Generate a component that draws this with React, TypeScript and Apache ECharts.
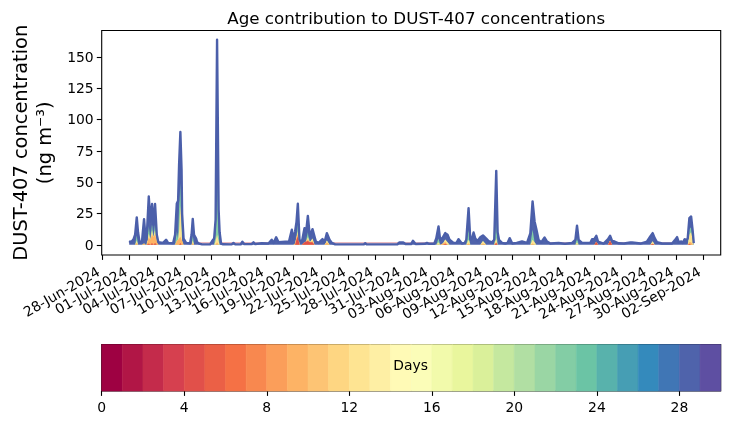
import { useEffect, useRef } from 'react';
import * as echarts from 'echarts';

// ---------- axis / label data ----------
const START_UTC = Date.UTC(2024, 5, 28); // x = days since 28-Jun-2024
const MONTHS = ['Jan', 'Feb', 'Mar', 'Apr', 'May', 'Jun', 'Jul', 'Aug', 'Sep', 'Oct', 'Nov', 'Dec'];
const dateTicks = [0, 3, 6, 9, 12, 15, 18, 21, 24, 27, 30, 33, 36, 39, 42, 45, 48, 51, 54, 57, 60, 63, 66];
const yTicks = [0, 25, 50, 75, 100, 125, 150];
const dayTicks = [0, 4, 8, 12, 16, 20, 24, 28];
const ageDays = Array.from({ length: 30 }, (_, i) => i);
const X_MIN = -0.07;
const X_MAX = 67.91;

// ---------- total concentration, [day offset, ng m-3] ----------
const julyEarly = [
  [2.95, 3.0], [3.15, 2.0], [3.43, 4.5], [3.6, 8], [3.78, 21.8], [3.92, 10], [4.09, 2.0], [4.36, 3.0],
  [4.58, 20.5], [4.75, 5], [4.86, 4], [5.1, 38.5], [5.27, 18.6], [5.46, 32.5], [5.6, 16], [5.79, 32.5],
  [5.98, 8], [6.15, 2.0], [6.67, 1.5], [7.0, 4], [7.22, 1.5], [7.77, 1.2], [7.99, 8], [8.18, 33],
  [8.32, 35], [8.43, 64], [8.57, 90], [8.7, 60], [8.76, 25], [8.92, 5], [9.2, 1.5], [9.64, 1.2],
  [9.8, 8], [9.93, 20.7], [10.07, 8], [10.3, 5], [10.41, 2], [10.63, 1], [10.96, 0.3],
];
const julyMid = [
  [11.84, 0.3], [12.06, 3], [12.28, 5], [12.44, 20], [12.6, 163.6], [12.77, 28], [12.88, 10], [13.04, 1],
  [13.26, 0.4], [14.2, 0.3], [14.4, 1.5], [14.6, 0.3], [15.2, 0.4], [15.38, 2.4], [15.6, 0.5], [16.4, 0.5],
  [16.6, 2.0], [16.8, 0.6], [17.5, 1.2], [18.24, 1.0], [18.6, 4.0], [18.8, 1.5], [19.09, 6.0], [19.35, 2],
  [20.08, 2.5], [20.5, 2.5],
];
const julyLate = [
  [20.81, 12], [20.99, 4], [21.17, 10.6], [21.32, 18], [21.47, 32.7], [21.65, 4], [21.91, 2], [22.2, 13.3],
  [22.35, 8], [22.57, 23], [22.79, 6.6], [23.08, 12.5], [23.3, 6.6], [23.45, 2.6], [23.74, 1.5], [24.18, 4.5],
  [24.4, 2], [24.66, 9.3], [24.95, 4], [25.21, 1.5], [25.57, 0.3], [28.7, 0.3], [28.87, 1.2], [29.05, 0.3],
  [32.4, 0.3], [32.6, 1.8], [33.05, 1.9], [33.3, 0.6], [33.9, 0.6], [34.11, 3.2], [34.4, 0.6],
];
const augEarly = [
  [35.4, 0.8], [35.65, 1.5], [35.9, 0.8], [36.45, 0.8], [36.67, 5], [36.92, 14.6], [37.1, 4], [37.4, 6],
  [37.66, 9.3], [37.91, 8], [38.13, 4], [38.57, 1.5], [38.9, 1.5], [39.12, 4.5], [39.49, 1], [39.8, 1.5],
  [39.97, 4], [40.22, 29.2], [40.41, 4], [40.6, 5], [40.77, 9.8], [40.96, 5], [41.21, 3], [41.51, 6],
  [41.8, 7.5], [42.16, 5], [42.42, 3], [42.79, 2], [43.04, 4], [43.26, 59], [43.41, 10], [43.56, 4],
  [43.89, 1.5], [44.25, 1], [44.5, 1.5], [44.73, 5.3], [45.02, 1],
];
const augMid = [
  [45.5, 1.5], [46.09, 2.6], [46.64, 1.5], [47.0, 9], [47.25, 34.6], [47.47, 18.6], [47.66, 12.5], [47.91, 4],
  [48.21, 2], [48.57, 5.8], [48.84, 2.6], [49.2, 1], [50.11, 1.5], [50.8, 0.8], [51.6, 1.5], [51.95, 4],
  [52.13, 15.2], [52.31, 4], [52.68, 1.5], [53.59, 1.5],
];
const augLate = [
  [53.78, 4.5], [54.03, 4.5], [54.25, 7.2], [54.44, 2.6], [55.05, 1], [55.54, 4.5], [55.76, 7.2], [55.98, 3],
  [56.26, 2.6], [56.7, 1.2], [57.3, 1], [57.99, 1.9], [58.18, 1.9], [59.1, 1], [59.82, 2.6], [60.18, 6.6],
  [60.44, 9.3], [60.66, 5.3], [60.92, 2], [61.47, 1], [62.57, 1], [62.86, 3.5], [63.12, 6.1], [63.3, 2],
  [63.59, 2.6], [63.74, 1.5], [63.96, 4.5], [64.11, 2.6], [64.29, 5.3], [64.47, 21.3], [64.66, 22.6],
  [64.84, 10.6], [64.95, 1.3],
];

// ---------- age-band contributions at peaks, [day offset, ng m-3] ----------
const youngest = [
  [5.1, 1], [5.46, 1.5], [5.79, 1.5], [8.57, 1.5], [21.32, 4], [21.47, 6.6], [22.2, 2], [22.35, 2.5],
  [22.57, 3], [22.79, 2], [23.08, 2], [37.66, 0.8], [43.26, 1.5], [54.25, 2.5], [55.76, 3.5], [60.44, 0.8],
  [64.47, 0.8],
];
const young = [
  [3.78, 1.5], [4.58, 1], [5.1, 5], [5.27, 4], [5.46, 7], [5.6, 6], [5.79, 7], [5.98, 3], [8.18, 3],
  [8.32, 4], [8.43, 5], [8.57, 5], [8.7, 4], [8.76, 3], [9.93, 1.5], [12.6, 2], [21.17, 1], [21.32, 2],
  [21.47, 2], [22.57, 1.5], [23.08, 1], [24.66, 2], [37.4, 1], [37.66, 1.5], [40.22, 1], [41.8, 1],
  [43.26, 1], [47.25, 1], [64.47, 1.5], [64.66, 2],
];
const middle = [
  [3.78, 2], [5.1, 3], [5.46, 3], [5.79, 3], [8.43, 6], [8.57, 25], [8.7, 8], [9.93, 2], [12.44, 3],
  [12.6, 6], [12.77, 3], [21.47, 2], [22.57, 1.5], [23.08, 2], [24.66, 1.5], [36.92, 2], [37.66, 2],
  [37.91, 2], [40.22, 3], [41.8, 2], [43.26, 3], [47.25, 3], [47.47, 2], [52.13, 2], [60.44, 2],
  [64.47, 6], [64.66, 8], [64.84, 4],
];
const older = [
  [3.78, 4], [5.1, 6], [5.46, 5], [5.79, 5], [8.18, 8], [8.43, 20], [8.57, 18], [8.7, 15], [9.93, 4],
  [12.44, 6], [12.6, 50], [12.77, 8], [21.47, 6], [22.57, 4], [36.92, 3], [40.22, 8], [43.26, 15],
  [47.25, 8], [52.13, 4], [64.47, 4], [64.66, 4],
];
const baselineLevel = 1.5;

// ---------- colours (matplotlib Spectral) ----------
const SPECTRAL = ['#9e0142', '#d53e4f', '#f46d43', '#fdae61', '#fee08b', '#ffffbf', '#e6f598', '#abdda4', '#66c2a5', '#3288bd', '#5e4fa2'];
function hexToRgb(h: string) {
  return [parseInt(h.slice(1, 3), 16), parseInt(h.slice(3, 5), 16), parseInt(h.slice(5, 7), 16)];
}
function spectral(x: number) {
  const p = Math.max(0, Math.min(1, x)) * 10;
  const i = Math.min(9, Math.floor(p));
  const f = p - i;
  const a = hexToRgb(SPECTRAL[i]);
  const b = hexToRgb(SPECTRAL[i + 1]);
  const c = a.map((v, k) => Math.round(v + (b[k] - v) * f));
  return `rgb(${c[0]},${c[1]},${c[2]})`;
}
const binColors = ageDays.map((i) => spectral(i / 29));

const FONT = 'DejaVu Sans';

function fmtDate(t: number) {
  const d = new Date(START_UTC + Math.round(t) * 86400000);
  const dd = String(d.getUTCDate()).padStart(2, '0');
  return `${dd}-${MONTHS[d.getUTCMonth()]}-${d.getUTCFullYear()}`;
}

export default function App() {
  const ref = useRef<HTMLDivElement>(null);
  useEffect(() => {
    document.body.style.margin = '0';
    if (!ref.current) return;
    const chart = echarts.init(ref.current, undefined, { renderer: 'svg' });

    const keypoints = [...julyEarly, ...julyMid, ...julyLate, ...augEarly, ...augMid, ...augLate];
    const key = (t: number) => t.toFixed(2);
    const toMap = (arr: number[][]) => new Map(arr.map(([t, v]) => [key(t), v]));
    // bottom -> top of the stack
    const bands = [
      { map: toMap(youngest), color: binColors[4] },
      { map: toMap(young), color: binColors[9] },
      { map: toMap(middle), color: binColors[12] },
      { map: toMap(older), color: binColors[22] },
    ];
    // cumulative tops of each band (stack computed here; drawn largest first)
    const cumulative: number[][][] = [];
    let running = keypoints.map(() => 0);
    bands.forEach((b) => {
      running = keypoints.map(([t], i) => running[i] + (b.map.get(key(t)) ?? 0));
      cumulative.push(keypoints.map(([t], i) => [t, running[i]]));
    });

    const first = keypoints[0][0];
    const last = keypoints[keypoints.length - 1][0];

    // ECharts always hides the first/last label or its neighbour when rotated labels
    // overlap; pad with empty placeholder labels at the very ends of the axis.
    const padLo = X_MIN + 0.01;
    const padHi = X_MAX - 0.01;
    const xLabelValues = [padLo, ...dateTicks, padHi];
    const xTickValues = [padLo, ...dateTicks, padHi];

    const gridL = 101.7;
    const gridW = 619;

    const areaSeries = (data: number[][], color: string, z: number) => ({
      type: 'line',
      data,
      symbol: 'none',
      lineStyle: { width: 0, opacity: 0 },
      areaStyle: { color, opacity: 1 },
      silent: true,
      z,
    });

    const series: any[] = [
      {
        type: 'line',
        data: [[first, baselineLevel], [last, baselineLevel]],
        symbol: 'none',
        lineStyle: { color: '#e2a2aa', width: 1.2 },
        silent: true,
        z: 1,
      },
      areaSeries(keypoints, binColors[28], 2),
      ...[3, 2, 1, 0].map((k) => areaSeries(cumulative[k], bands[k].color, 3 + (3 - k))),
      {
        type: 'line',
        data: keypoints,
        symbol: 'none',
        lineStyle: { width: 2.4, color: '#4b5faa', join: 'round' },
        silent: true,
        z: 8,
      },
      {
        type: 'custom',
        xAxisIndex: 1,
        yAxisIndex: 1,
        silent: true,
        data: ageDays.map((i) => [i, i + 1]),
        encode: { x: [0, 1] },
        renderItem: (params: any, api: any) => {
          const a = api.value(0);
          const b = api.value(1);
          const p0 = api.coord([a, 1]);
          const p1 = api.coord([b, 0]);
          const col = binColors[a];
          return {
            type: 'rect',
            shape: { x: p0[0], y: p0[1], width: p1[0] - p0[0], height: p1[1] - p0[1] },
            style: { fill: col, stroke: col, lineWidth: 0.6 },
          };
        },
        z: 2,
      },
    ];

    const tickLabel = { color: '#000', fontFamily: FONT, fontSize: 13.9 };

    chart.setOption({
      animation: false,
      title: {
        text: 'Age contribution to DUST-407 concentrations',
        left: gridL + gridW / 2,
        top: 4,
        textAlign: 'center',
        textStyle: { fontFamily: FONT, fontSize: 16.7, fontWeight: 'normal', color: '#000' },
      },
      graphic: [
        {
          type: 'text',
          left: gridL + gridW / 2 - 18,
          top: 358,
          style: { text: 'Days', fontFamily: FONT, fontSize: 13.9, fill: '#000' },
          z: 10,
        },
      ],
      grid: [
        { left: gridL, top: 30.5, width: gridW, height: 224.5, show: true, borderColor: '#000', borderWidth: 1.1, backgroundColor: 'transparent' },
        { left: gridL, top: 344.5, width: gridW, height: 46.5, show: true, borderColor: '#000', borderWidth: 1.1, backgroundColor: 'transparent' },
      ],
      xAxis: [
        {
          type: 'value',
          gridIndex: 0,
          min: X_MIN,
          max: X_MAX,
          axisLine: { show: false, onZero: false },
          splitLine: { show: false },
          axisTick: { show: true, customValues: xTickValues, length: 4.9, lineStyle: { color: '#000', width: 1.1 } },
          axisLabel: {
            show: true, customValues: xLabelValues, interval: 0, rotate: 30, margin: 13,
            showMinLabel: false, showMaxLabel: false, hideOverlap: false,
            formatter: (v: number) => (v === padLo || v === padHi ? '' : fmtDate(v) + ' '), ...tickLabel,
          },
        },
        {
          type: 'value',
          gridIndex: 1,
          min: 0,
          max: 30,
          axisLine: { show: false, onZero: false },
          splitLine: { show: false },
          axisTick: { show: true, customValues: dayTicks, length: 4.9, lineStyle: { color: '#000', width: 1.1 } },
          axisLabel: { show: true, customValues: dayTicks, interval: 0, margin: 9, showMinLabel: true, formatter: (v: number) => String(v), ...tickLabel },
        },
      ],
      yAxis: [
        {
          type: 'value',
          gridIndex: 0,
          min: -8.15,
          max: 170.95,
          axisLine: { show: false, onZero: false },
          splitLine: { show: false },
          axisTick: { show: true, customValues: yTicks, length: 4.9, lineStyle: { color: '#000', width: 1.1 } },
          axisLabel: { show: true, customValues: yTicks, interval: 0, margin: 8, ...tickLabel },
          name: 'DUST-407 concentration\n(ng m⁻³)',
          nameLocation: 'middle',
          nameRotate: 90,
          nameGap: 46,
          nameTextStyle: { fontFamily: FONT, fontSize: 19.4, lineHeight: 23.3, color: '#000' },
        },
        {
          type: 'value',
          gridIndex: 1,
          min: 0,
          max: 1,
          show: false,
        },
      ],
      series,
    });
    return () => chart.dispose();
  }, []);
  return <div ref={ref} style={{ position: 'fixed', left: 0, top: 0, width: 730, height: 425 }} />;
}
